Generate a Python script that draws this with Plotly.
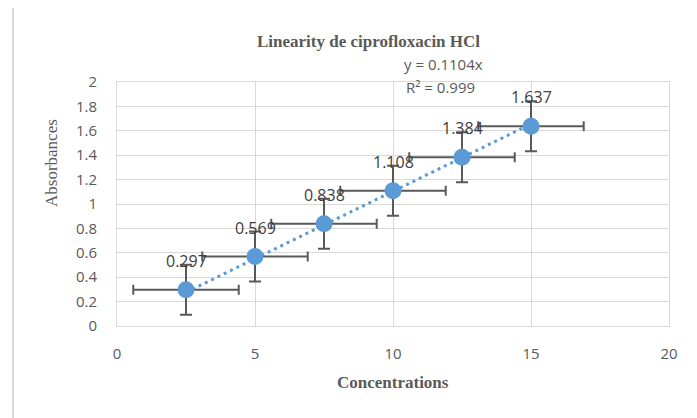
import plotly.graph_objects as go

# Data
concentrations = [2.5, 5, 7.5, 10, 12.5, 15]
absorbances = [0.297, 0.569, 0.838, 1.108, 1.384, 1.637]
x_error = 1.91   # standard error bars
y_error = 0.205
slope = 0.1104
r_squared = 0.999
x_ticks = [0, 5, 10, 15, 20]
y_ticks = [0, 0.2, 0.4, 0.6, 0.8, 1, 1.2, 1.4, 1.6, 1.8, 2]

W, H = 697, 418
OFF = 8  # page body margin
# target plot area in screenshot pixels
PL, PR, PT, PB = 117, 669, 82, 326
L, T = PL - OFF, PT - OFF
R, B = W - (PR - OFF), H - (PB - OFF)
pw, ph = PR - PL, PB - PT

def px(xp):
    return (xp - PL) / pw

def py(yp):
    return (PB - yp) / ph

BLUE = "#5B9BD5"
GRAY = "#595959"
GRID = "#D9D9D9"
TICKFONT = dict(family="Open Sans", size=15, color=GRAY)
SERIF = dict(family="Liberation Serif", size=17, color=GRAY)

fig = go.Figure()

trend_x = [min(concentrations), max(concentrations)]
trend_y = [slope * v for v in trend_x]
fig.add_trace(go.Scatter(
    x=trend_x, y=trend_y, mode="lines",
    line=dict(color=BLUE, width=3, dash="3px,4px"),
    hoverinfo="skip", showlegend=False))

fig.add_trace(go.Scatter(
    x=concentrations, y=absorbances, mode="markers",
    marker=dict(color=BLUE, size=17),
    error_x=dict(type="constant", value=x_error, color=GRAY, thickness=2, width=5),
    error_y=dict(type="constant", value=y_error, color=GRAY, thickness=2, width=6),
    showlegend=False))

for xv, yv in zip(concentrations, absorbances):
    fig.add_annotation(x=xv, y=yv, text=f"{yv:.3f}", showarrow=False,
                       yshift=29, font=dict(family="Open Sans", size=16, color="#404040"))

annots = [
    dict(text="<b>Linearity de ciprofloxacin HCl</b>", x=px(368), y=py(41), font=SERIF),
    dict(text=f"y = {slope}x", x=px(443), y=py(64), font=TICKFONT),
    dict(text=f"R² = {r_squared}", x=px(440), y=py(87), font=TICKFONT),
    dict(text="<b>Concentrations</b>", x=px(393), y=py(382), font=SERIF),
    dict(text="Absorbances", x=px(51), y=py(163), textangle=-90, font=SERIF),
]
for a in annots:
    fig.add_annotation(xref="paper", yref="paper", showarrow=False,
                       xanchor="center", yanchor="middle", **a)

# outer chart border (left and top edges visible)
bx, by = px(13), py(6.5)
fig.add_shape(type="line", xref="paper", yref="paper", x0=bx, x1=bx, y0=py(440), y1=by,
              line=dict(color=GRID, width=2))
fig.add_shape(type="line", xref="paper", yref="paper", x0=bx, x1=px(720), y0=by, y1=by,
              line=dict(color=GRID, width=2))

fig.update_layout(
    width=W, height=H,
    margin=dict(l=L, r=R, t=T, b=B),
    paper_bgcolor="white", plot_bgcolor="white",
    xaxis=dict(range=[0, 20], tickvals=x_ticks, showgrid=True, gridcolor=GRID,
               zeroline=False, showline=True, mirror=True, linecolor=GRID,
               tickfont=TICKFONT, ticks="", ticklabelstandoff=14),
    yaxis=dict(range=[0, 2], tickvals=y_ticks, ticktext=[f"{v:g}" for v in y_ticks],
               showgrid=True, gridcolor=GRID,
               zeroline=False, showline=True, mirror=True, linecolor=GRID,
               tickfont=TICKFONT, ticks="", ticklabelstandoff=16),
)

fig.write_html("out.html")
